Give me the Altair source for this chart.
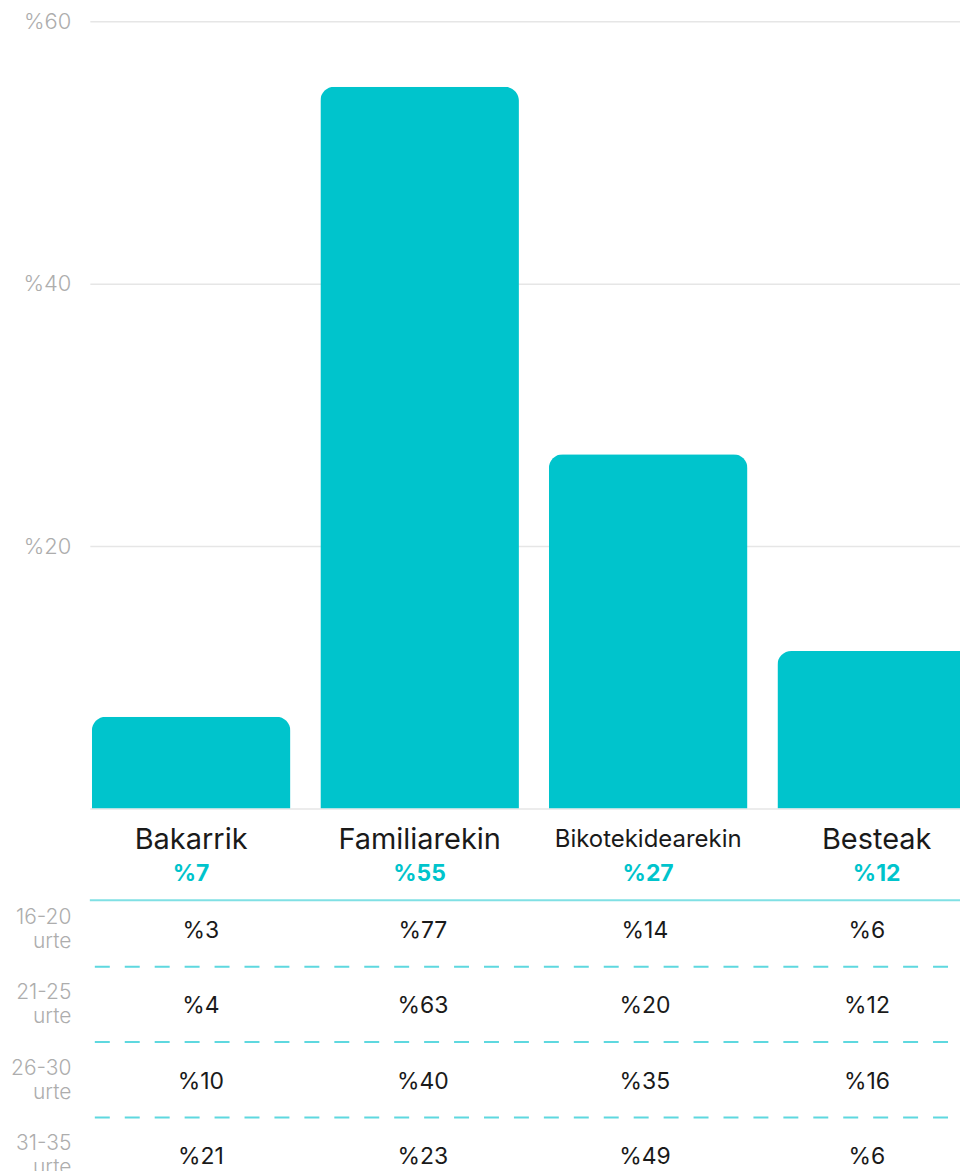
import altair as alt
import pandas as pd

categories = ["Bakarrik", "Familiarekin", "Bikotekidearekin", "Besteak"]
totals = [7, 55, 27, 12]
age_groups = ["16-20 urte", "21-25 urte", "26-30 urte", "31-35 urte"]
age_16_20 = [3, 77, 14, 6]
age_21_25 = [4, 63, 20, 12]
age_26_30 = [10, 40, 35, 16]
age_31_35 = [21, 23, 49, 6]
y_ticks = [0, 20, 40, 60]

FONT = "Inter"
TEAL = "#00c4cc"

totals_df = pd.DataFrame({"cat": categories, "value": totals})
rows = [age_16_20, age_21_25, age_26_30, age_31_35]
table_df = pd.DataFrame(
    [{"age": a, "cat": c, "value": v} for a, r in zip(age_groups, rows) for c, v in zip(categories, r)]
)
ages_df = pd.DataFrame({"age": age_groups})

W = 890
H_TOP = 789
x_scale = alt.Scale(domain=categories, paddingInner=0.131, paddingOuter=0.0087)

x_enc = alt.X("cat:N", sort=categories, scale=x_scale, axis=None)

base_top = alt.Chart(totals_df)

bars = base_top.mark_bar(color=TEAL, cornerRadiusTopLeft=14, cornerRadiusTopRight=14).encode(
    x=x_enc,
    y=alt.Y(
        "value:Q",
        scale=alt.Scale(domain=[0, 60], nice=False),
        axis=alt.Axis(
            values=y_ticks,
            labelExpr="datum.value == 0 ? '' : '%' + datum.value",
            grid=True,
            gridColor="#e6e6e6",
            gridWidth=1.5,
            domain=False,
            ticks=False,
            labelPadding=19,
            labelFontSize=22,
            labelColor="#adadad",
            labelFont=FONT,
            labelFontWeight=300,
            title=None,
        ),
    ),
)

names = base_top.mark_text(font=FONT, color="#1a1a1a", baseline="middle", fontWeight=400).encode(
    x=x_enc,
    y=alt.value(H_TOP + 32),
    text="cat:N",
    size=alt.condition(alt.datum.cat == "Bikotekidearekin", alt.value(24), alt.value(29)),
)

pcts = base_top.mark_text(font=FONT, color=TEAL, baseline="middle", fontWeight="bold", fontSize=23).encode(
    x=x_enc,
    y=alt.value(H_TOP + 66),
    text=alt.Text("label:N"),
).transform_calculate(label="'%' + datum.value")

top = alt.layer(bars, names, pcts).properties(width=W, height=H_TOP)

H_ROW = 75.5
row_scale = alt.Scale(domain=age_groups, paddingInner=0, paddingOuter=0, range=[0, H_ROW * 4])
y_rows = alt.Y(
    "age:N",
    sort=age_groups,
    scale=row_scale,
    axis=alt.Axis(
        labelExpr="split(datum.label, ' ')",
        grid=False,
        domain=False,
        ticks=False,
        labelPadding=19,
        labelFontSize=21,
        labelLineHeight=24,
        labelOffset=-11,
        labelColor="#adadad",
        labelFont=FONT,
        labelFontWeight=300,
        labelBaseline="middle",
        title=None,
    ),
)

cells = alt.Chart(table_df).mark_text(font=FONT, fontSize=23, color="#1a1a1a", baseline="middle", fontWeight=400, dy=2).encode(
    x=x_enc,
    y=y_rows,
    text="label:N",
).transform_calculate(label="'%' + datum.value")

seps = alt.Chart(ages_df).mark_rule(color="#5ed8df", strokeWidth=2, strokeDash=[15, 15]).encode(
    y=alt.Y("age:N", sort=age_groups, bandPosition=1, scale=row_scale),
)

top_line = alt.Chart(pd.DataFrame({"k": [0]})).mark_rule(color="#80e0e4", strokeWidth=2).encode(
    y=alt.value(9),
)

bottom = alt.layer(cells, seps, top_line).properties(width=W, height=262)

chart = (
    alt.vconcat(top, bottom, spacing=83, bounds="flush")
    .properties(padding={"left": 2, "top": 1, "right": -19, "bottom": -15})
    .configure(font=FONT, background="white")
    .configure_view(stroke=None)
)

chart.save("out.html", embed_options={"renderer": "svg", "actions": False})
